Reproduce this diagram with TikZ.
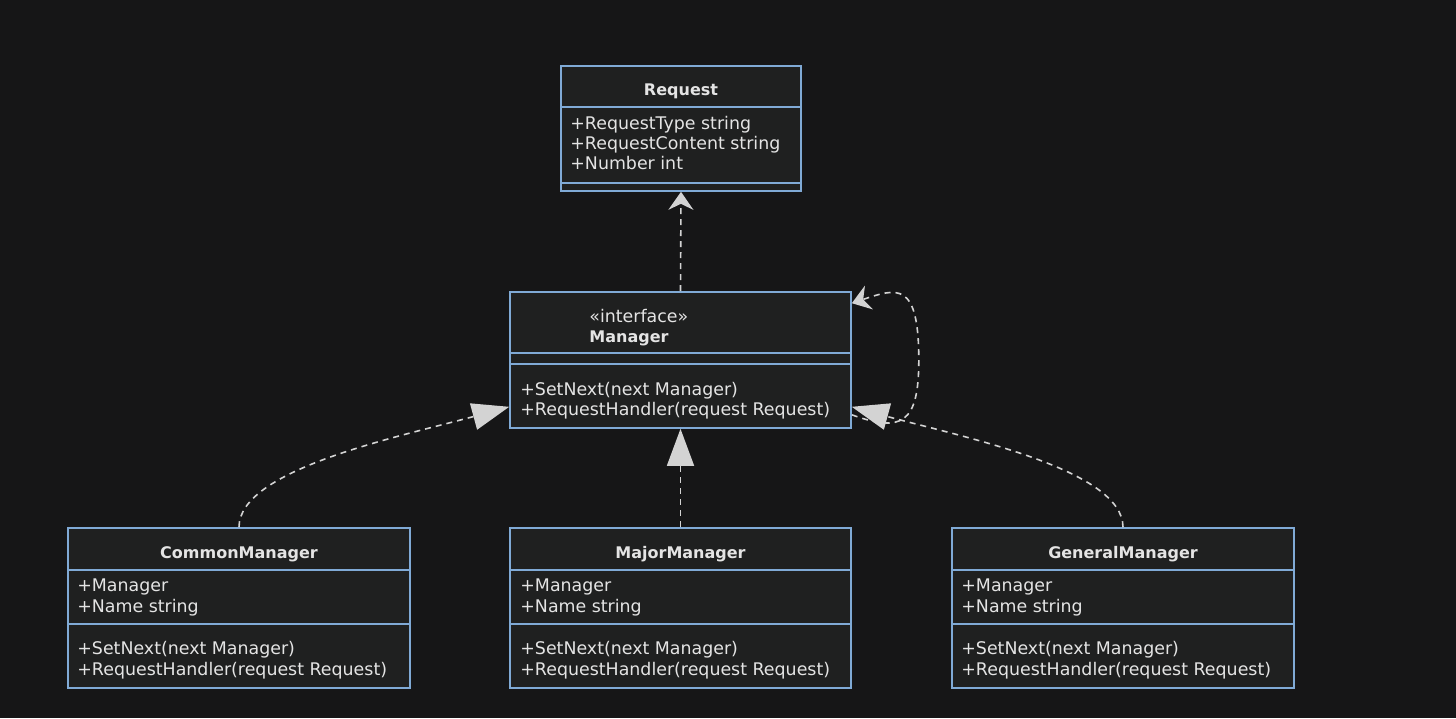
\documentclass[tikz,border=0pt]{standalone}
\usepackage{fontspec}
\setmainfont{DejaVu Sans}
\usetikzlibrary{arrows.meta,calc}

\definecolor{bgcol}{RGB}{22,22,23}
\definecolor{boxcol}{RGB}{31,32,32}
\definecolor{rimcol}{RGB}{128,170,214}
\definecolor{txtcol}{RGB}{228,228,228}
\definecolor{arrcol}{RGB}{211,211,211}

\begin{document}
\begin{tikzpicture}[
    x=1pt, y=-1pt,
    cls/.style={draw=rimcol, fill=boxcol, line width=1.6pt, inner sep=0pt},
    sep/.style={draw=rimcol, line width=1.8pt},
    lbl/.style={text=txtcol, font=\fontsize{17.4}{20}\selectfont, inner sep=0pt,
                text height=20pt, text depth=3pt},
    ttl/.style={lbl, font=\fontsize{16}{20}\selectfont\bfseries},
    dep/.style={arrcol, line width=1.6pt, dash pattern=on 6pt off 5pt,
                -{Stealth[length=18pt, width=25pt, inset=6pt, fill=arrcol]}},
    real/.style={arrcol, line width=1.6pt, dash pattern=on 6pt off 5pt,
                 -{Triangle[length=37pt, width=27pt, fill=arrcol]}},
  ]

  % ---- sfondo ---------------------------------------------------------------
  \fill[bgcol] (0,0) rectangle (1456,718);
  \useasboundingbox (0,0) rectangle (1456,718);

  % ---- classi ---------------------------------------------------------------
  \node[cls, minimum width=240pt, minimum height=125pt] (Request) at (681,128.5) {};
  \node[cls, minimum width=341pt, minimum height=136pt] (Manager) at (680.5,360) {};
  \node[cls, minimum width=342pt, minimum height=160pt] (Common)  at (239,608) {};
  \node[cls, minimum width=341pt, minimum height=160pt] (Major)   at (680.5,608) {};
  \node[cls, minimum width=342pt, minimum height=160pt] (General) at (1123,608) {};

  % ---- separatori -----------------------------------------------------------
  \draw[sep] ([yshift=-42pt]Request.north west) -- ([yshift=-42pt]Request.north east);
  \draw[sep] ([yshift=9pt]Request.south west)   -- ([yshift=9pt]Request.south east);
  \draw[sep] ([yshift=-62pt]Manager.north west) -- ([yshift=-62pt]Manager.north east);
  \draw[sep] ([yshift=-73pt]Manager.north west) -- ([yshift=-73pt]Manager.north east);
  \draw[sep] ([yshift=-43pt]Common.north west)  -- ([yshift=-43pt]Common.north east);
  \draw[sep] ([yshift=-97pt]Common.north west)  -- ([yshift=-97pt]Common.north east);
  \draw[sep] ([yshift=-43pt]Major.north west)   -- ([yshift=-43pt]Major.north east);
  \draw[sep] ([yshift=-97pt]Major.north west)   -- ([yshift=-97pt]Major.north east);
  \draw[sep] ([yshift=-43pt]General.north west) -- ([yshift=-43pt]General.north east);
  \draw[sep] ([yshift=-97pt]General.north west) -- ([yshift=-97pt]General.north east);

  % ---- testi: Request -------------------------------------------------------
  \node[ttl] (reqT) at ([yshift=-22pt]Request.north) {Request};
  \node[lbl, anchor=west] (reqA) at ([xshift=10pt, yshift=-56pt]Request.north west) {+RequestType string};
  \node[lbl, anchor=west] (reqB) at ([xshift=10pt, yshift=-76pt]Request.north west) {+RequestContent string};
  \node[lbl, anchor=west] (reqC) at ([xshift=10pt, yshift=-96pt]Request.north west) {+Number int};

  % ---- testi: Manager -------------------------------------------------------
  \node[lbl, anchor=west] (mgrS) at ([xshift=80pt, yshift=-23pt]Manager.north west) {«interface»};
  \node[ttl, anchor=west] (mgrT) at ([xshift=80pt, yshift=-43pt]Manager.north west) {Manager};
  \node[lbl, anchor=west] (mgrA) at ([xshift=11pt, yshift=-96pt]Manager.north west) {+SetNext(next Manager)};
  \node[lbl, anchor=west] (mgrB) at ([xshift=11pt, yshift=-116pt]Manager.north west) {+RequestHandler(request Request)};

  % ---- testi: CommonManager -------------------------------------------------
  \node[ttl] (comT) at ([yshift=-23pt]Common.north) {CommonManager};
  \node[lbl, anchor=west] (comA) at ([xshift=10pt, yshift=-56pt]Common.north west) {+Manager};
  \node[lbl, anchor=west] (comB) at ([xshift=10pt, yshift=-77pt]Common.north west) {+Name string};
  \node[lbl, anchor=west] (comC) at ([xshift=10pt, yshift=-119pt]Common.north west) {+SetNext(next Manager)};
  \node[lbl, anchor=west] (comD) at ([xshift=10pt, yshift=-140pt]Common.north west) {+RequestHandler(request Request)};

  % ---- testi: MajorManager --------------------------------------------------
  \node[ttl] (majT) at ([yshift=-23pt]Major.north) {MajorManager};
  \node[lbl, anchor=west] (majA) at ([xshift=11pt, yshift=-56pt]Major.north west) {+Manager};
  \node[lbl, anchor=west] (majB) at ([xshift=11pt, yshift=-77pt]Major.north west) {+Name string};
  \node[lbl, anchor=west] (majC) at ([xshift=11pt, yshift=-119pt]Major.north west) {+SetNext(next Manager)};
  \node[lbl, anchor=west] (majD) at ([xshift=11pt, yshift=-140pt]Major.north west) {+RequestHandler(request Request)};

  % ---- testi: GeneralManager ------------------------------------------------
  \node[ttl] (genT) at ([yshift=-23pt]General.north) {GeneralManager};
  \node[lbl, anchor=west] (genA) at ([xshift=10pt, yshift=-56pt]General.north west) {+Manager};
  \node[lbl, anchor=west] (genB) at ([xshift=10pt, yshift=-77pt]General.north west) {+Name string};
  \node[lbl, anchor=west] (genC) at ([xshift=10pt, yshift=-119pt]General.north west) {+SetNext(next Manager)};
  \node[lbl, anchor=west] (genD) at ([xshift=10pt, yshift=-140pt]General.north west) {+RequestHandler(request Request)};

  % ---- relazioni ------------------------------------------------------------
  \coordinate (mgrL)  at ([yshift=22pt]Manager.south west);
  \coordinate (mgrR)  at ([yshift=22pt]Manager.south east);
  \coordinate (loopR) at ([xshift=67pt]Manager.east);

  \draw[dep]  (Manager.north) -- (Request.south);
  \draw[real] (Major.north) -- (Manager.south);
  \draw[real] (Common.north) .. controls +(0,-58) and +(-110,30) .. (mgrL);
  \draw[real] (General.north) .. controls +(0,-58) and +(110,30) .. (mgrR);
  % associazione su se stessa
  \draw[dep] ([yshift=14pt]Manager.south east) .. controls +(50,18) and +(0,64) .. (loopR)
             .. controls +(0,-80) and +(45,-15) .. ([yshift=-12pt]Manager.north east);

\end{tikzpicture}
\end{document}
